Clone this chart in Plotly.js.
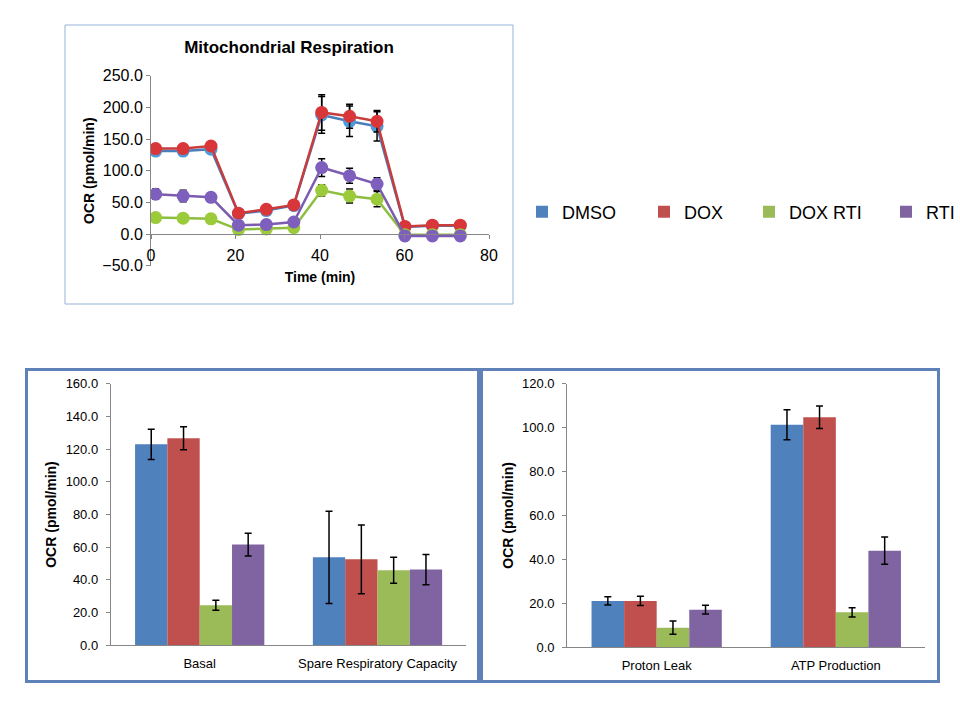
<!DOCTYPE html>
<html>
<head>
<meta charset="utf-8">
<script src="https://cdn.plot.ly/plotly-3.0.1.min.js"></script>
<style>html,body{margin:0;padding:0;background:#fff;}#chart{width:960px;height:720px;}</style>
</head>
<body>
<div id="chart"></div>
<script>
// ---- Data: Mitochondrial Respiration time course ----
const timeMin = [1.1, 7.6, 14.2, 20.7, 27.3, 33.8, 40.4, 47.0, 53.5, 60.1, 66.6, 73.2];
const ocrDMSO   = [131, 131, 134, 32, 37, 45, 188, 178, 170, 11, 13, 13];
const errDMSO   = [5, 5, 5, 4, 4, 4, 29, 24, 23, 3, 3, 3];
const ocrDOX    = [135, 135, 139, 33, 39, 46, 192, 186, 178, 12, 14, 14];
const errDOX    = [5, 5, 5, 4, 4, 4, 28, 19, 17, 3, 3, 3];
const ocrDOXRTI = [26, 25, 24, 7, 8, 10, 69, 60, 55, -1, -1, -1];
const errDOXRTI = [4, 4, 4, 2, 2, 2, 9, 11, 12, 2, 2, 2];
const ocrRTI    = [63, 60, 58, 14, 15, 19, 105, 92, 79, -3, -3, -3];
const errRTI    = [8, 9, 7, 4, 4, 4, 14, 12, 10, 2, 2, 2];

// ---- Data: bar charts ----
const seriesNames = ['DMSO', 'DOX', 'DOX RTI', 'RTI'];
const catsA = ['Basal', 'Spare Respiratory Capacity'];
const barA_DMSO = [122.9, 53.8],  barA_DMSO_err = [9.2, 28.2];
const barA_DOX = [126.6, 52.6],   barA_DOX_err = [7.0, 21.0];
const barA_DOXRTI = [24.5, 45.9], barA_DOXRTI_err = [3.0, 8.0];
const barA_RTI = [61.6, 46.3],    barA_RTI_err = [7.0, 9.2];

const catsB = ['Proton Leak', 'ATP Production'];
const barB_DMSO = [21.0, 101.3],  barB_DMSO_err = [1.9, 6.8];
const barB_DOX = [21.0, 104.7],   barB_DOX_err = [2.1, 5.1];
const barB_DOXRTI = [8.8, 15.8],  barB_DOXRTI_err = [3.0, 2.1];
const barB_RTI = [17.0, 43.9],    barB_RTI_err = [2.0, 6.2];

const yTicksTop = [-50, 0, 50, 100, 150, 200, 250];
const xTicksTop = [0, 20, 40, 60, 80];
const yTicksA = [0, 20, 40, 60, 80, 100, 120, 140, 160];
const yTicksB = [0, 20, 40, 60, 80, 100, 120];

// ---- Styles ----
const barColors = ['#4F81BD', '#C0504D', '#9BBB59', '#8064A2'];
const markerColors = ['#4F9BD9', '#D9363A', '#9BCB3A', '#7E5FBE'];
const lineColors = ['#4A7EBB', '#C83C3C', '#8DBE3F', '#7C5CB0'];
const FONT = 'Liberation Sans, Arial, sans-serif';
const W = 960, H = 720;
const px = v => v / W, py = v => 1 - v / H;

const errStyle = arr => ({type: 'data', array: arr, visible: true, color: '#000', thickness: 1.5, width: 3.5});

const lineSeries = [
  [ocrDMSO, errDMSO], [ocrDOX, errDOX], [ocrDOXRTI, errDOXRTI], [ocrRTI, errRTI]
];
const traces = [];
lineSeries.forEach((s, i) => {
  traces.push({
    type: 'scatter', mode: 'lines+markers', x: timeMin, y: s[0],
    error_y: errStyle(s[1]),
    line: {color: lineColors[i], width: 2.5},
    marker: {color: markerColors[i], size: 13},
    xaxis: 'x', yaxis: 'y', showlegend: false, name: seriesNames[i]
  });
});

const barsA = [[barA_DMSO, barA_DMSO_err], [barA_DOX, barA_DOX_err], [barA_DOXRTI, barA_DOXRTI_err], [barA_RTI, barA_RTI_err]];
const barsB = [[barB_DMSO, barB_DMSO_err], [barB_DOX, barB_DOX_err], [barB_DOXRTI, barB_DOXRTI_err], [barB_RTI, barB_RTI_err]];
const legendIds = ['legend', 'legend2', 'legend3', 'legend4'];
barsA.forEach((s, i) => {
  traces.push({
    type: 'bar', x: catsA, y: s[0], error_y: errStyle(s[1]), name: seriesNames[i],
    marker: {color: barColors[i]}, xaxis: 'x2', yaxis: 'y2',
    showlegend: true, legend: legendIds[i]
  });
});
barsB.forEach((s, i) => {
  traces.push({
    type: 'bar', x: catsB, y: s[0], error_y: errStyle(s[1]), name: seriesNames[i],
    marker: {color: barColors[i]}, xaxis: 'x3', yaxis: 'y3', showlegend: false
  });
});

const axisBase = {showgrid: false, zeroline: false, showline: true, linecolor: '#868686', linewidth: 1,
  tickfont: {family: FONT, size: 13, color: '#000'}};
const titleFont = {family: FONT, size: 14, color: '#000', weight: 'bold'};

const legendPos = [522, 644, 749, 886];
const legendCfg = x => ({x: px(x), xanchor: 'left', y: py(212), yanchor: 'middle', orientation: 'h',
  bgcolor: 'rgba(0,0,0,0)', borderwidth: 0, font: {family: FONT, size: 18, color: '#000'}});

const layout = {
  width: W, height: H, margin: {l: 0, r: 0, t: 0, b: 0},
  paper_bgcolor: '#fff', plot_bgcolor: 'rgba(0,0,0,0)',
  font: {family: FONT, color: '#000'},
  title: {text: 'Mitochondrial Respiration', x: px(289), xanchor: 'center', y: py(47), yanchor: 'middle',
    font: {family: FONT, size: 17, color: '#000', weight: 'bold'}},
  barmode: 'group', bargap: 0.273, bargroupgap: 0,
  xaxis: Object.assign({}, axisBase, {domain: [px(151), px(489)], range: [0, 80], anchor: 'free', position: py(234),
    tickvals: xTicksTop, ticks: 'outside', ticklen: 4, tickcolor: '#868686', ticklabelstandoff: 3,
    tickfont: {family: FONT, size: 16, color: '#000'},
    title: {text: 'Time (min)', font: titleFont, standoff: 8}}),
  yaxis: Object.assign({}, axisBase, {domain: [py(265.7), py(75.7)], range: [-50, 250], anchor: 'x',
    tickvals: yTicksTop, tickformat: '.1f', ticks: 'outside', ticklen: 4, tickcolor: '#868686',
    tickfont: {family: FONT, size: 16, color: '#000'},
    title: {text: 'OCR (pmol/min)', font: titleFont, standoff: 4}}),
  xaxis2: Object.assign({}, axisBase, {domain: [px(110.8), px(466.4)], anchor: 'y2', ticks: '', ticklabelstandoff: 6}),
  yaxis2: Object.assign({}, axisBase, {domain: [py(645.3), py(383.7)], range: [0, 160], anchor: 'x2',
    tickvals: yTicksA, tickformat: '.1f', ticks: 'outside', ticklen: 4, tickcolor: '#868686', ticklabelstandoff: 5,
    title: {text: 'OCR (pmol/min)', font: titleFont, standoff: 5}}),
  xaxis3: Object.assign({}, axisBase, {domain: [px(567.1), px(925.4)], anchor: 'y3', ticks: '', ticklabelstandoff: 6}),
  yaxis3: Object.assign({}, axisBase, {domain: [py(647), py(383.7)], range: [0, 120], anchor: 'x3',
    tickvals: yTicksB, tickformat: '.1f', ticks: 'outside', ticklen: 4, tickcolor: '#868686', ticklabelstandoff: 5,
    title: {text: 'OCR (pmol/min)', font: titleFont, standoff: 5}}),
  legend: legendCfg(legendPos[0]),
  legend2: legendCfg(legendPos[1]),
  legend3: legendCfg(legendPos[2]),
  legend4: legendCfg(legendPos[3]),
  shapes: [
    {type: 'rect', xref: 'paper', yref: 'paper', x0: px(65), x1: px(513), y0: py(304), y1: py(25),
      line: {color: '#95B3D7', width: 1}, fillcolor: 'rgba(0,0,0,0)', layer: 'below'},
    {type: 'rect', xref: 'paper', yref: 'paper', x0: px(26.5), x1: px(478.5), y0: py(681.5), y1: py(369.5),
      line: {color: '#5E82B8', width: 3}, fillcolor: 'rgba(0,0,0,0)', layer: 'below'},
    {type: 'rect', xref: 'paper', yref: 'paper', x0: px(481.5), x1: px(938.5), y0: py(681.5), y1: py(369.5),
      line: {color: '#5E82B8', width: 3}, fillcolor: 'rgba(0,0,0,0)', layer: 'below'}
  ]
};

Plotly.newPlot('chart', traces, layout, {staticPlot: true, displayModeBar: false});
</script>
</body>
</html>
